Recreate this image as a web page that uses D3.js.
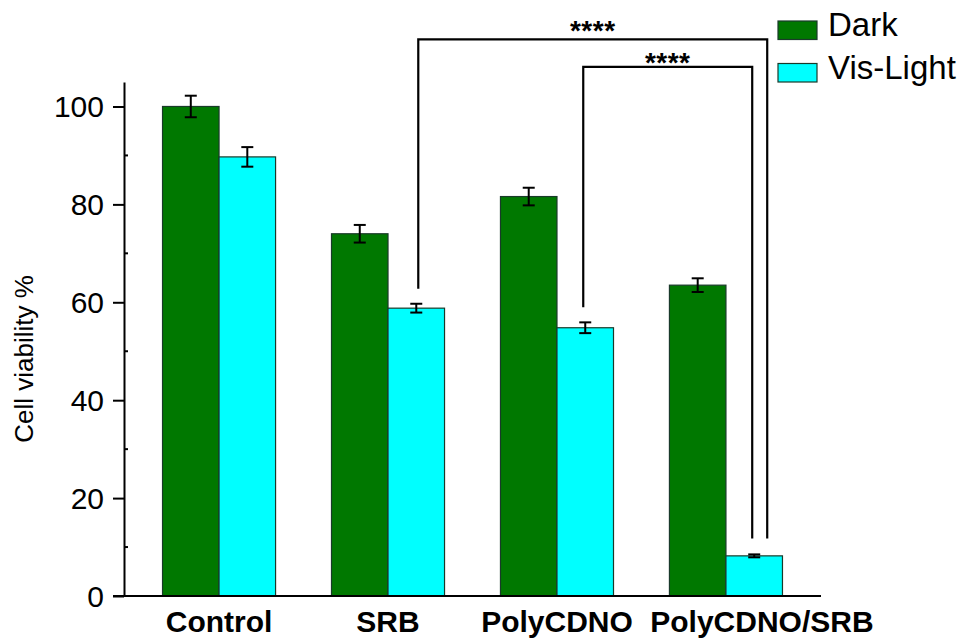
<!DOCTYPE html>
<html>
<head>
<meta charset="utf-8">
<script src="https://cdn.jsdelivr.net/npm/d3@7"></script>
<style>
  html, body { margin: 0; padding: 0; background: #fff; }
  svg { display: block; font-family: "Liberation Sans", Arial, sans-serif; }
</style>
</head>
<body>
<svg id="chart" width="968" height="641"></svg>
<script>
// ---- data ----
const categories = ["Control", "SRB", "PolyCDNO", "PolyCDNO/SRB"];
const seriesNames = ["Dark", "Vis-Light"];
const darkValues = [100, 74.0, 81.6, 63.5];
const darkErrors = [2.2, 1.8, 1.8, 1.4];
const lightValues = [89.7, 58.8, 54.8, 8.2];
const lightErrors = [2.0, 0.9, 1.1, 0.3];
const yTicks = [0, 20, 40, 60, 80, 100];
const yMinorTicks = [10, 30, 50, 70, 90];
// significance brackets: from category to category (Vis-Light bars), level in y units
const brackets = [
  { from: 1, to: 3, level: 113.7, label: "****", dxFrom: 2, dxTo: 13, dy: 0 },
  { from: 2, to: 3, level: 108.1, label: "****", dxFrom: -2, dxTo: -2, dy: 4 }
];

const colors = { "Dark": "#007800", "Vis-Light": "#00ffff" };

const svg = d3.select("#chart");
const x0 = 124, x1 = 821, yBottom = 596;

const x = d3.scaleBand().domain(categories).range([x0, x1])
  .paddingInner(0.331).paddingOuter(0.228);
const xs = d3.scaleBand().domain(seriesNames).range([0, x.bandwidth()]);
const y = d3.scaleLinear().domain([0, 105]).range([yBottom, 82]);

const rows = [];
categories.forEach((c, i) => {
  rows.push({ cat: c, s: "Dark", v: darkValues[i], e: darkErrors[i] });
  rows.push({ cat: c, s: "Vis-Light", v: lightValues[i], e: lightErrors[i] });
});

// bars
svg.append("g").selectAll("rect").data(rows).join("rect")
  .attr("x", d => x(d.cat) + xs(d.s))
  .attr("y", d => y(d.v))
  .attr("width", xs.bandwidth())
  .attr("height", d => y(0) - y(d.v))
  .attr("fill", d => colors[d.s])
  .attr("stroke", "#1a3a2a")
  .attr("stroke-width", 1.2);

// error bars
const eg = svg.append("g").attr("stroke", "#000").attr("stroke-width", 2);
rows.forEach(d => {
  const cx = x(d.cat) + xs(d.s) + xs.bandwidth() / 2;
  eg.append("line").attr("x1", cx).attr("x2", cx).attr("y1", y(d.v + d.e)).attr("y2", y(d.v - d.e));
  eg.append("line").attr("x1", cx - 6).attr("x2", cx + 6).attr("y1", y(d.v + d.e)).attr("y2", y(d.v + d.e));
  eg.append("line").attr("x1", cx - 6).attr("x2", cx + 6).attr("y1", y(d.v - d.e)).attr("y2", y(d.v - d.e));
});

// y axis
const yAxis = svg.append("g").attr("transform", `translate(${x0},0)`)
  .call(d3.axisLeft(y).tickValues(yTicks).tickSize(11).tickPadding(9).tickSizeOuter(0));
yAxis.select(".domain").attr("stroke-width", 2);
yAxis.selectAll(".tick line").attr("stroke-width", 2);
yAxis.selectAll(".tick text").attr("font-size", 30).attr("fill", "#000")
  .attr("font-family", "'Liberation Sans', Arial, sans-serif").attr("dy", "0.35em");
svg.append("g").selectAll("line").data(yMinorTicks).join("line")
  .attr("x1", x0).attr("x2", x0 + 4)
  .attr("y1", d => y(d)).attr("y2", d => y(d))
  .attr("stroke", "#000").attr("stroke-width", 2);

// x axis line
svg.append("line").attr("x1", x0 - 11).attr("x2", x1).attr("y1", y(0)).attr("y2", y(0))
  .attr("stroke", "#000").attr("stroke-width", 2);

// x labels
svg.append("g").selectAll("text").data(categories).join("text")
  .attr("x", (d, i) => x(d) + x.bandwidth() / 2 + (i === 3 ? 36 : 0))
  .attr("y", 632)
  .attr("text-anchor", "middle")
  .attr("font-size", 30).attr("font-weight", "bold")
  .text(d => d);

// y title
svg.append("text")
  .attr("transform", `translate(33,359) rotate(-90)`)
  .attr("text-anchor", "middle").attr("font-size", 26)
  .text("Cell viability %");

// brackets
const bg = svg.append("g").attr("stroke", "#000").attr("stroke-width", 2.2).attr("fill", "none");
function lightTopPx(i) { return y(lightValues[i] + lightErrors[i]); }
brackets.forEach(b => {
  const xa = x(categories[b.from]) + xs("Vis-Light") + xs.bandwidth() / 2 + b.dxFrom;
  const xb = x(categories[b.to]) + xs("Vis-Light") + xs.bandwidth() / 2 + b.dxTo;
  const yl = y(b.level);
  bg.append("path").attr("d",
    `M${xa},${lightTopPx(b.from) - 15} L${xa},${yl} L${xb},${yl} L${xb},${lightTopPx(b.to) - 16}`);
  svg.append("text").attr("x", (xa + xb) / 2).attr("y", yl + 1 + b.dy)
    .attr("text-anchor", "middle").attr("font-size", 28).attr("font-weight", "bold")
    .attr("letter-spacing", 0.5)
    .text(b.label);
});

// legend
const lg = svg.append("g");
seriesNames.forEach((s, i) => {
  const yy = 21 + i * 42.5;
  lg.append("rect").attr("x", 778).attr("y", yy).attr("width", 39).attr("height", 18.5)
    .attr("fill", colors[s]).attr("stroke", "#1a3a2a").attr("stroke-width", 1.2);
  lg.append("text").attr("x", 828).attr("y", yy + 15).attr("font-size", 33).text(s);
});
</script>
</body>
</html>
